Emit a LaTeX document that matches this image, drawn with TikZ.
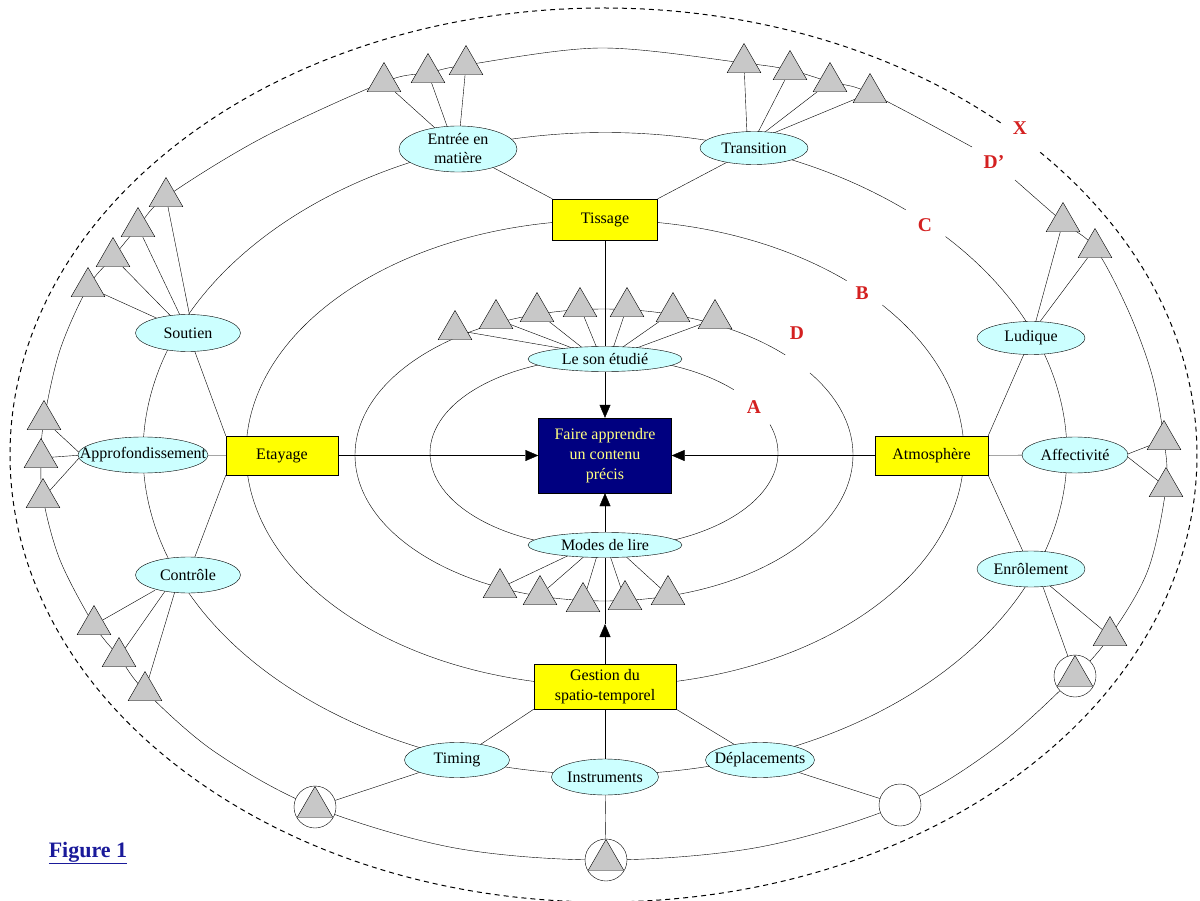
\documentclass[tikz,border=0pt]{standalone}
\usepackage{fontspec}
\setmainfont{Liberation Serif}
\usetikzlibrary{shapes.geometric,arrows.meta,calc}
\definecolor{cyanfill}{HTML}{CCFFFF}
\definecolor{boxyellow}{HTML}{FFFF00}
\definecolor{navyfill}{HTML}{000080}
\definecolor{paleyellow}{HTML}{FFFF80}
\definecolor{trigray}{HTML}{C8C8C8}
\definecolor{labred}{HTML}{D42020}
\definecolor{figblue}{HTML}{1A1A9A}
\pgfdeclarelayer{paper}
\pgfdeclarelayer{bg}
\pgfsetlayers{paper,bg,main}
\newcommand\zw[1]{\makebox[0pt]{#1}}
\begin{document}
\begin{tikzpicture}[x=1pt,y=-1pt,line width=1.1pt,
  every node/.style={font=\fontsize{16}{20}\selectfont},
  ell/.style={ellipse,draw,fill=cyanfill,inner sep=0pt},
  ybox/.style={rectangle,draw,fill=boxyellow,inner sep=0pt,align=center},
  tri/.style={regular polygon,regular polygon sides=3,draw,fill=trigray,inner sep=0pt,minimum size=39pt},
  ring/.style={circle,draw,fill=white,inner sep=0pt,minimum size=42pt},
  lab/.style={text=labred,font=\fontsize{19.5}{20}\selectfont\bfseries},
  arr/.style={-{Triangle[length=13pt,width=11pt]}}]
\useasboundingbox (0,0) rectangle (1200,901);
\begin{pgfonlayer}{paper}
\fill[white] (0,0) rectangle (1200,901);
\end{pgfonlayer}

% ---------- boxes ----------
\node[ybox,minimum width=105pt,minimum height=41pt] (tissage) at (605,219.5) {Tissage};
\node[ybox,minimum width=112pt,minimum height=39pt] (etayage) at (282,455.5) {Etayage};
\node[ybox,minimum width=113pt,minimum height=39pt] (atmos) at (931.5,455.5) {Atmosphère};
\node[ybox,minimum width=142pt,minimum height=45pt] (gestion) at (605,686.5) {Gestion du\\spatio-temporel};
\node[rectangle,draw,fill=navyfill,text=paleyellow,inner sep=0pt,align=center,minimum width=133pt,minimum height=75pt] (faire) at (605,455.5) {Faire apprendre\\un contenu\\précis};

% ---------- ellipses ----------
\node[ell,minimum width=118pt,minimum height=46pt,align=center,font=\fontsize{16}{19}\selectfont] (entree) at (458,149) {\zw{Entrée en}\\\zw{matière}};
\node[ell,minimum width=108pt,minimum height=33pt] (transition) at (754,148) {\zw{Transition}};
\node[ell,minimum width=105pt,minimum height=37pt] (soutien) at (188,333) {\zw{Soutien}};
\node[ell,minimum width=130pt,minimum height=36pt] (approf) at (143,455) {\zw{Approfondissement}};
\node[ell,minimum width=105pt,minimum height=36pt] (controle) at (188,575) {\zw{Contrôle}};
\node[ell,minimum width=108pt,minimum height=33pt] (ludique) at (1031,338) {\zw{Ludique}};
\node[ell,minimum width=106pt,minimum height=36pt] (affect) at (1075,455) {\zw{Affectivité}};
\node[ell,minimum width=108pt,minimum height=36pt] (enrol) at (1031,569) {\zw{Enrôlement}};
\node[ell,minimum width=105pt,minimum height=35pt] (timing) at (457,760) {\zw{Timing}};
\node[ell,minimum width=107pt,minimum height=36pt] (instr) at (605,777) {\zw{Instruments}};
\node[ell,minimum width=109pt,minimum height=35pt] (deplac) at (760,760) {\zw{Déplacements}};
\node[ell,minimum width=154pt,minimum height=25pt] (leson) at (605,359) {\zw{Le son étudié}};
\node[ell,minimum width=154pt,minimum height=25pt] (modes) at (605,545) {\zw{Modes de lire}};

% ---------- triangles and circles ----------
\node[tri] (E1) at (384,82) {};
\node[tri] (E2) at (428,73) {};
\node[tri] (E3) at (466,65) {};
\node[tri] (T1) at (744,63) {};
\node[tri] (T2) at (790,70) {};
\node[tri] (T3) at (830,82) {};
\node[tri] (T4) at (870,93) {};
\node[tri] (L1) at (1063,222) {};
\node[tri] (L2) at (1095,248) {};
\node[tri] (F1) at (1164,440) {};
\node[tri] (F2) at (1166,487) {};
\node[tri] (tN1) at (1110,636) {};
\node[ring] (cN) at (1075,676) {};
\node[tri,minimum size=41pt] (tNc) at (1075,676) {};
\node[ring] (cD) at (900,805) {};
\node[ring] (cI) at (606,860) {};
\node[tri,minimum size=41pt] (tI) at (606,860) {};
\node[ring] (cT) at (315,807) {};
\node[tri,minimum size=41pt] (tT) at (315,807) {};
\node[tri] (C1) at (94,625) {};
\node[tri] (C2) at (119,657) {};
\node[tri] (C3) at (145,691) {};
\node[tri] (A1) at (44,420) {};
\node[tri] (A2) at (41,458) {};
\node[tri] (A3) at (43,498) {};
\node[tri] (S1) at (166,197) {};
\node[tri] (S2) at (138,227) {};
\node[tri] (S3) at (113,257) {};
\node[tri] (S4) at (88,287) {};
\node[tri] (U1) at (455,330) {};
\node[tri] (U2) at (496,319) {};
\node[tri] (U3) at (537,312) {};
\node[tri] (U4) at (580,307) {};
\node[tri] (U5) at (627,307) {};
\node[tri] (U6) at (673,312) {};
\node[tri] (U7) at (715,319) {};
\node[tri] (B1) at (500,588) {};
\node[tri] (B2) at (540,595) {};
\node[tri] (B3) at (583,602) {};
\node[tri] (B4) at (625,600) {};
\node[tri] (B5) at (668,595) {};

% ---------- labels ----------
\node[lab] (lX) at (1020,128) {X};
\node[lab] (lDp) at (994,162) {D’};
\node[lab] (lC) at (925,225) {C};
\node[lab] (lB) at (862,293) {B};
\node[lab] (lD) at (797,333) {D};
\node[lab] (lA) at (754,407) {A};
\node[text=figblue,font=\fontsize{22}{24}\selectfont\bfseries] (fig) at (88,853) {\underline{Figure 1}};

\coordinate (oX) at (603.5,455);
\coordinate (oC) at (605,453.5);
\coordinate (oB) at (605,453);
\coordinate (oDd) at (604,455);
\coordinate (oA) at (604,453);
\coordinate (gtip) at (605,624);

\begin{pgfonlayer}{bg}
% rings
\draw[line width=1pt,dash pattern=on 5pt off 4pt] ($(oX)+(48:593.5pt and 447pt)$) arc[start angle=48,end angle=403,x radius=593.5pt,y radius=447pt];
\draw plot[smooth,tension=0.55] coordinates {(1015,180) (1063,222) (1095,248) (1128,310) (1152,375) (1164,440) (1166,487) (1148,570) (1110,636) (1075,676) (995,748) (900,805) (760,847) (606,860) (455,848) (315,807) (215,752) (145,691) (119,657) (94,625) (60,560) (43,498) (41,458) (44,420) (60,350) (88,287) (113,257) (138,227) (166,197) (262,138) (384,82) (428,73) (466,65) (601,48) (744,63) (790,70) (830,82) (870,93) (972,147)};
\draw ($(oC)+(49.4:462pt and 321pt)$) arc[start angle=49.4,end angle=402.5,x radius=462pt,y radius=321pt];
\draw ($(oB)+(47.7:359pt and 233pt)$) arc[start angle=47.7,end angle=399.4,x radius=359pt,y radius=233pt];
\draw ($(oDd)+(43.3:249pt and 146pt)$) arc[start angle=43.3,end angle=394.2,x radius=249pt,y radius=146pt];
\draw ($(oA)+(41.8:174pt and 95pt)$) arc[start angle=41.8,end angle=377.4,x radius=174pt,y radius=95pt];

% main connectors
\draw (tissage.north west) -- (entree);
\draw (tissage.north east) -- (transition);
\draw (tissage) -- (leson);
\draw[arr] (leson) -- (faire);
\draw[arr] (modes) -- (faire);
\draw[arr] (etayage) -- (faire);
\draw[arr] (atmos) -- (faire);
\draw[arr] (gestion) -- (gtip);
\draw (gtip) -- (modes);
\draw (gestion) -- (instr);
\draw (instr) -- (tI);
\draw (gestion.south west) -- (timing);
\draw (gestion.south east) -- (deplac);
\draw (timing) -- (cT);
\draw (deplac) -- (cD);
\draw (etayage.north west) -- (soutien);
\draw (etayage.south west) -- (controle);
\draw (etayage) -- (approf);
\draw (atmos.north east) -- (ludique);
\draw (atmos.south east) -- (enrol);
\draw (atmos) -- (affect);

% fans to triangles
\draw ($(entree.north)+(-21,4)$) -- (E1);
\draw ($(entree.north)+(-10,3)$) -- (E2);
\draw ($(entree.north)+(2,3)$) -- (E3);
\draw ($(transition.north)+(-7,3)$) -- (T1);
\draw ($(transition.north)+(3,3)$) -- (T2);
\draw ($(transition.north)+(8,3)$) -- (T3);
\draw ($(transition.north)+(14,4)$) -- (T4);
\draw ($(soutien.north)+(-31,4)$) -- (S4);
\draw ($(soutien.north)+(-16,3)$) -- (S3);
\draw ($(soutien.north)+(-7,3)$) -- (S2);
\draw ($(soutien.north)+(2,3)$) -- (S1);
\draw ($(approf.west)+(4,0)$) -- (A1);
\draw ($(approf.west)+(4,0)$) -- (A2);
\draw ($(approf.west)+(4,0)$) -- (A3);
\draw ($(controle.south)+(-33,-3)$) -- (C1);
\draw ($(controle.south)+(-23,-2)$) -- (C2);
\draw ($(controle.south)+(-13,-2)$) -- (C3);
\draw ($(ludique.north)+(4,3)$) -- (L1);
\draw ($(ludique.north)+(7,3)$) -- (L2);
\draw ($(affect.east)+(-3,0)$) -- (F1);
\draw ($(affect.east)+(-3,0)$) -- (F2);
\draw ($(enrol.south)+(11,-3)$) -- (cN);
\draw ($(enrol.south)+(17,-3)$) -- (tN1);
\draw ($(leson.north)+(-38,3)$) -- (U1);
\draw ($(leson.north)+(-32,2)$) -- (U2);
\draw ($(leson.north)+(-22,2)$) -- (U3);
\draw ($(leson.north)+(-8,2)$) -- (U4);
\draw ($(leson.north)+(8,2)$) -- (U5);
\draw ($(leson.north)+(16,2)$) -- (U6);
\draw ($(leson.north)+(28,3)$) -- (U7);
\draw ($(modes.south)+(-37,-2)$) -- (B1);
\draw ($(modes.south)+(-20,-2)$) -- (B2);
\draw ($(modes.south)+(-8,-2)$) -- (B3);
\draw ($(modes.south)+(5,-2)$) -- (B4);
\draw ($(modes.south)+(20,-2)$) -- (B5);
\end{pgfonlayer}
\end{tikzpicture}
\end{document}
